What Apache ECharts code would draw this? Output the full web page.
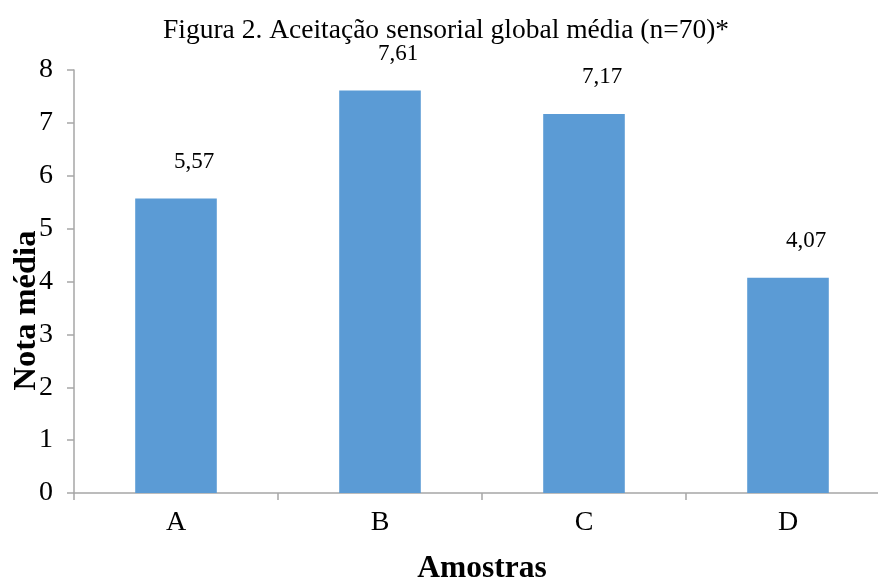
<!DOCTYPE html>
<html>
<head>
<meta charset="utf-8">
<script src="https://cdn.jsdelivr.net/npm/echarts@6/dist/echarts.min.js"></script>
<style>
html,body{margin:0;padding:0;background:#fff;}
#chart{width:878px;height:578px;}
</style>
</head>
<body>
<div id="chart"></div>
<script>
const titleText = 'Figura 2. Aceitação sensorial global média (n=70)*';
const categories = ['A', 'B', 'C', 'D'];
const values = [5.57, 7.61, 7.17, 4.07];
const yTicks = [0, 1, 2, 3, 4, 5, 6, 7, 8];
const xAxisTitle = 'Amostras';
const yAxisTitle = 'Nota média';

const serif = '"Liberation Serif", "Times New Roman", serif';
const chart = echarts.init(document.getElementById('chart'), null, {renderer: 'canvas'});
chart.setOption({
  animation: false,
  backgroundColor: '#ffffff',
  title: {
    text: titleText,
    left: 163, top: 17, padding: 0,
    textStyle: {fontFamily: serif, fontSize: 27.5, fontWeight: 'normal', color: '#000'}
  },
  grid: {left: 74, top: 70, width: 816, height: 423, outerBoundsMode: 'none'},
  xAxis: {
    type: 'category',
    data: categories,
    name: xAxisTitle,
    nameLocation: 'middle',
    nameGap: 60,
    nameMoveOverlap: false,
    nameTextStyle: {fontFamily: serif, fontSize: 31.5, fontWeight: 'bold', color: '#000'},
    axisLine: {lineStyle: {color: '#a6a6a6', width: 1.5}},
    axisTick: {show: true, alignWithLabel: false, length: 7, lineStyle: {color: '#a6a6a6', width: 1.5}},
    axisLabel: {fontFamily: serif, fontSize: 28, color: '#000', margin: 16},
    splitLine: {show: false}
  },
  yAxis: {
    type: 'value',
    min: yTicks[0], max: yTicks[yTicks.length - 1], interval: 1,
    name: yAxisTitle,
    nameLocation: 'middle',
    nameGap: 31,
    nameRotate: 90,
    nameMoveOverlap: false,
    nameTextStyle: {fontFamily: serif, fontSize: 32.5, fontWeight: 'bold', color: '#000', padding: [0, 58, 0, 0]},
    axisLine: {show: true, lineStyle: {color: '#a6a6a6', width: 1.5}},
    axisTick: {show: true, length: 7, lineStyle: {color: '#a6a6a6', width: 1.5}},
    axisLabel: {fontFamily: serif, fontSize: 28, color: '#000', margin: 21},
    splitLine: {show: false}
  },
  series: [{
    type: 'bar',
    data: values,
    barWidth: '40%',
    itemStyle: {color: '#5b9bd5'},
    label: {
      show: true,
      position: 'top',
      distance: 25,
      offset: [18, 0],
      fontFamily: serif,
      fontSize: 23,
      color: '#000',
      formatter: p => p.value.toFixed(2).replace('.', ',')
    }
  }]
});
</script>
</body>
</html>
